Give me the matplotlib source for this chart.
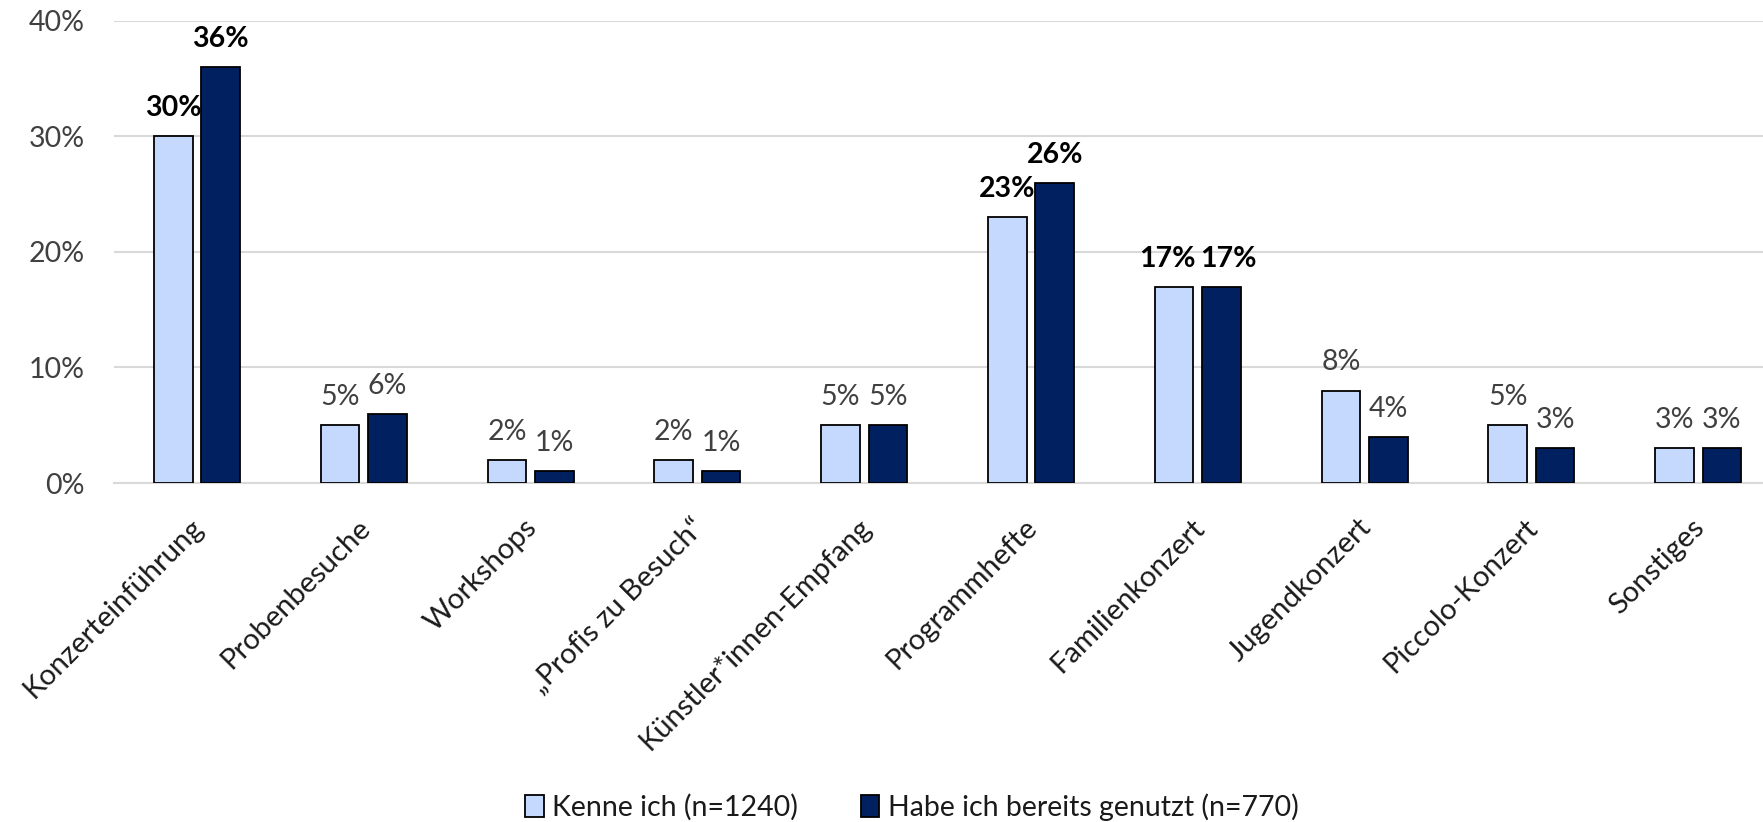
import matplotlib
matplotlib.use("Agg")
import matplotlib.pyplot as plt
import matplotlib.transforms as mtransforms
import numpy as np

categories = ["Konzerteinführung", "Probenbesuche", "Workshops", "\u201eProfis zu Besuch\u201c",
              "Künstler*innen-Empfang", "Programmhefte", "Familienkonzert", "Jugendkonzert",
              "Piccolo-Konzert", "Sonstiges"]
kenne = [30, 5, 2, 2, 5, 23, 17, 8, 5, 3]
genutzt = [36, 6, 1, 1, 5, 26, 17, 4, 3, 3]
series_names = ["Kenne ich (n=1240)", "Habe ich bereits genutzt (n=770)"]
yticks = [0, 10, 20, 30, 40]

plt.rcParams['font.family'] = ['Lato', 'DejaVu Sans']

W, H = 1763, 822
fig = plt.figure(figsize=(W / 100, H / 100), dpi=100)
ax = fig.add_axes([113.6 / W, 1 - 483 / H, 1668 / W, (483 - 21) / H])

x = np.arange(len(categories))
bw = 0.232
off = 0.142
c_light = "#c5d9ff"
c_dark = "#002060"
b1 = ax.bar(x - off, kenne, bw, color=c_light, edgecolor="black", linewidth=1.3, zorder=3,
            label=series_names[0])
b2 = ax.bar(x + off, genutzt, bw, color=c_dark, edgecolor="black", linewidth=1.3, zorder=3,
            label=series_names[1])

texts = []
for bars, vals in ((b1, kenne), (b2, genutzt)):
    row = []
    for rect, v in zip(bars, vals):
        bold = v >= 15
        t = ax.annotate(f"{v}%", (rect.get_x() + rect.get_width() / 2, v),
                        xytext=(0, 14.5), textcoords="offset points", ha="center", va="baseline",
                        fontsize=20.5, fontweight="bold" if bold else "normal",
                        color="black" if bold else "#404040")
        row.append(t)
    texts.append(row)

ax.set_xlim(-0.5, len(categories) - 0.5)
ax.set_ylim(0, 40)
ax.set_yticks(yticks)
ax.set_yticklabels([f"{t}%" for t in yticks], fontsize=20.5, color="#404040")
ax.yaxis.grid(True, color="#d9d9d9", linewidth=1.5, zorder=0)
ax.set_axisbelow(True)
for s in ["top", "right", "left"]:
    ax.spines[s].set_visible(False)
ax.spines["bottom"].set_color("#d9d9d9")
ax.spines["bottom"].set_linewidth(1.5)
ax.tick_params(axis="y", length=0, pad=21)
ax.tick_params(axis="x", length=0, pad=0)
ax.set_xticks(x)
ax.set_xticklabels(categories, rotation=45, ha="right", va="baseline", rotation_mode="anchor",
                   fontsize=21, color="#1a1a1a")
shift = mtransforms.ScaledTranslation(0.08, -0.46, fig.dpi_scale_trans)
for lab in ax.get_xticklabels():
    lab.set_transform(lab.get_transform() + shift)

fig.legend(handles=[b1, b2], labels=series_names, loc="center",
           bbox_to_anchor=(912 / W, 1 - 807 / H), ncol=2, frameon=False,
           fontsize=20.5, handlelength=0.65, handleheight=0.85, handletextpad=0.3,
           columnspacing=2.2, labelcolor="#1a1a1a")

# push apart adjacent value labels that would touch
fig.canvas.draw()
r = fig.canvas.get_renderer()
for t1, t2 in zip(texts[0], texts[1]):
    bb1 = t1.get_window_extent(r)
    bb2 = t2.get_window_extent(r)
    if bb1.y1 > bb2.y0 and bb2.y1 > bb1.y0:
        ov = bb1.x1 - bb2.x0 + 5
        if ov > 0:
            x1, y1 = t1.xyann
            x2, y2 = t2.xyann
            t1.xyann = (x1 - ov / 2 * 0.72, y1)
            t2.xyann = (x2 + ov / 2 * 0.72, y2)

fig.savefig("out.png", dpi=100)
